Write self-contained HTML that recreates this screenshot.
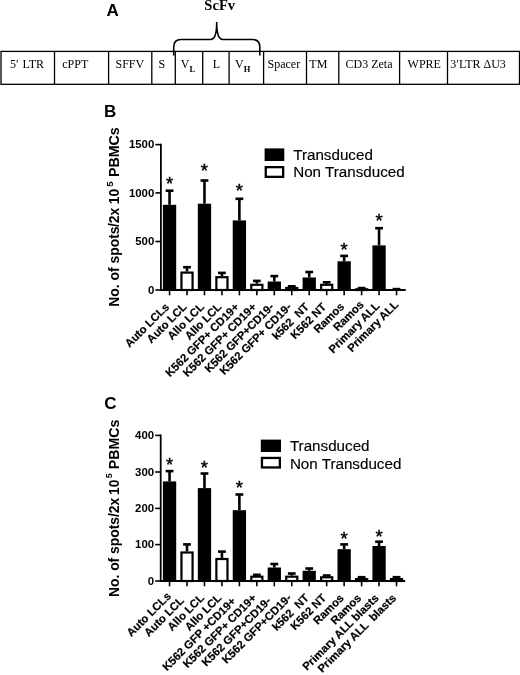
<!DOCTYPE html>
<html lang="en">
<head>
<meta charset="utf-8">
<title>Figure</title>
<style>
html,body{margin:0;padding:0;background:#fff;}
body{width:520px;height:675px;overflow:hidden;}
svg{display:block;will-change:transform;}
text{fill:#000;}
.hb{stroke:#000;stroke-width:0.2px;}
</style>
</head>
<body>
<svg width="520" height="675" viewBox="0 0 520 675">
<rect x="0" y="0" width="520" height="675" fill="#fff"/>
<text x="106.5" y="16" font-family='"Liberation Sans", Arial, Helvetica, sans-serif' font-weight="bold" font-size="17">A</text>
<text x="204.3" y="9.6" font-family='"Liberation Serif", "Times New Roman", serif' font-weight="bold" font-size="14.6">ScFv</text>
<rect x="1.0" y="51.4" width="518.5" height="32.9" fill="#fff" stroke="#000" stroke-width="1.3"/>
<line x1="54.5" y1="51.4" x2="54.5" y2="84.3" stroke="#000" stroke-width="1.3"/>
<line x1="108.6" y1="51.4" x2="108.6" y2="84.3" stroke="#000" stroke-width="1.3"/>
<line x1="151.8" y1="51.4" x2="151.8" y2="84.3" stroke="#000" stroke-width="1.3"/>
<line x1="175.3" y1="51.4" x2="175.3" y2="84.3" stroke="#000" stroke-width="1.3"/>
<line x1="202.7" y1="51.4" x2="202.7" y2="84.3" stroke="#000" stroke-width="1.3"/>
<line x1="229.1" y1="51.4" x2="229.1" y2="84.3" stroke="#000" stroke-width="1.3"/>
<line x1="263.6" y1="51.4" x2="263.6" y2="84.3" stroke="#000" stroke-width="1.3"/>
<line x1="306.5" y1="51.4" x2="306.5" y2="84.3" stroke="#000" stroke-width="1.3"/>
<line x1="338.8" y1="51.4" x2="338.8" y2="84.3" stroke="#000" stroke-width="1.3"/>
<line x1="399.6" y1="51.4" x2="399.6" y2="84.3" stroke="#000" stroke-width="1.3"/>
<line x1="447.5" y1="51.4" x2="447.5" y2="84.3" stroke="#000" stroke-width="1.3"/>
<path d="M173.7,55.6 L173.7,47 C173.7,42 176,39.5 181,39.5 L210.7,39.5 C214.6,39.5 216.7,34 216.7,22.6 C216.7,34 218.8,39.5 222.7,39.5 L252.5,39.5 C257.5,39.5 259.8,42 259.8,47 L259.8,55.6" fill="none" stroke="#000" stroke-width="1.6" stroke-linejoin="round"/>
<text x="10" y="68.3" font-family='"Liberation Serif", "Times New Roman", serif' font-size="12">5′<tspan dx='0.8'> LTR</tspan></text>
<text x="62.3" y="68.3" font-family='"Liberation Serif", "Times New Roman", serif' font-size="12">cPPT</text>
<text x="115.5" y="68.3" font-family='"Liberation Serif", "Times New Roman", serif' font-size="12">SFFV</text>
<text x="158.5" y="68.3" font-family='"Liberation Serif", "Times New Roman", serif' font-size="12">S</text>
<text x="212.8" y="68.3" font-family='"Liberation Serif", "Times New Roman", serif' font-size="12">L</text>
<text x="267.5" y="68.3" font-family='"Liberation Serif", "Times New Roman", serif' font-size="12">Spacer</text>
<text x="309.3" y="68.3" font-family='"Liberation Serif", "Times New Roman", serif' font-size="12">TM</text>
<text x="345.5" y="68.3" font-family='"Liberation Serif", "Times New Roman", serif' font-size="12">CD3 Zeta</text>
<text x="407.6" y="68.3" font-family='"Liberation Serif", "Times New Roman", serif' font-size="12">WPRE</text>
<text x="450.3" y="68.3" font-family='"Liberation Serif", "Times New Roman", serif' font-size="12">3′LTR ΔU3</text>
<text x="180.8" y="68.3" font-family='"Liberation Serif", "Times New Roman", serif' font-size="12">V<tspan font-size="8.5" font-weight="bold" dy="3.7">L</tspan></text>
<text x="235" y="68.3" font-family='"Liberation Serif", "Times New Roman", serif' font-size="12">V<tspan font-size="8.5" font-weight="bold" dy="3.7">H</tspan></text>
<text x="104.0" y="116.5" font-family='"Liberation Sans", Arial, Helvetica, sans-serif' font-weight="bold" font-size="17">B</text>
<text transform="translate(119.0,306.7) rotate(-90)" font-family='"Liberation Sans", Arial, Helvetica, sans-serif' font-weight="bold" font-size="13.9">No. of spots<tspan dx="-0.6">/2x</tspan><tspan dx="-0.4"> 10</tspan><tspan font-size="9.8" dy="-6.4" dx="2.0">5</tspan><tspan dy="6.4" dx="0.3" font-size="14.25"> PBMCs</tspan></text>
<line x1="169.55" y1="190.2" x2="169.55" y2="204.8" stroke="#000" stroke-width="2.6"/>
<line x1="165.65" y1="190.7" x2="173.45" y2="190.7" stroke="#000" stroke-width="2.6"/>
<rect x="162.90" y="204.8" width="13.3" height="85.20" fill="#000"/>
<line x1="169.55" y1="290.0" x2="169.55" y2="295.3" stroke="#000" stroke-width="1.6"/>
<text transform="translate(169.85,307.70) rotate(-45)" class="hb" text-anchor="end" font-family='"Liberation Sans", Arial, Helvetica, sans-serif' font-weight="bold" font-size="11.3" xml:space="preserve" style="white-space:pre">Auto LCLs</text>
<line x1="187.01" y1="266.7" x2="187.01" y2="271.5" stroke="#000" stroke-width="2.6"/>
<line x1="183.11" y1="267.2" x2="190.91" y2="267.2" stroke="#000" stroke-width="2.6"/>
<rect x="181.46" y="272.6" width="11.100000000000001" height="17.40" fill="#fff" stroke="#000" stroke-width="2.2"/>
<line x1="187.01" y1="290.0" x2="187.01" y2="295.3" stroke="#000" stroke-width="1.6"/>
<text transform="translate(187.31,307.70) rotate(-45)" class="hb" text-anchor="end" font-family='"Liberation Sans", Arial, Helvetica, sans-serif' font-weight="bold" font-size="11.3" xml:space="preserve" style="white-space:pre">Auto LCL</text>
<line x1="204.47" y1="180.0" x2="204.47" y2="203.7" stroke="#000" stroke-width="2.6"/>
<line x1="200.57" y1="180.5" x2="208.37" y2="180.5" stroke="#000" stroke-width="2.6"/>
<rect x="197.82" y="203.7" width="13.3" height="86.30" fill="#000"/>
<line x1="204.47" y1="290.0" x2="204.47" y2="295.3" stroke="#000" stroke-width="1.6"/>
<text transform="translate(204.77,307.70) rotate(-45)" class="hb" text-anchor="end" font-family='"Liberation Sans", Arial, Helvetica, sans-serif' font-weight="bold" font-size="11.3" xml:space="preserve" style="white-space:pre">Allo LCL</text>
<line x1="221.93" y1="272.4" x2="221.93" y2="276.1" stroke="#000" stroke-width="2.6"/>
<line x1="218.03" y1="272.9" x2="225.83" y2="272.9" stroke="#000" stroke-width="2.6"/>
<rect x="216.38" y="277.20000000000005" width="11.100000000000001" height="12.80" fill="#fff" stroke="#000" stroke-width="2.2"/>
<line x1="221.93" y1="290.0" x2="221.93" y2="295.3" stroke="#000" stroke-width="1.6"/>
<text transform="translate(222.23,307.70) rotate(-45)" class="hb" text-anchor="end" font-family='"Liberation Sans", Arial, Helvetica, sans-serif' font-weight="bold" font-size="11.3" xml:space="preserve" style="white-space:pre">Allo LCL</text>
<line x1="239.39" y1="198.3" x2="239.39" y2="220.4" stroke="#000" stroke-width="2.6"/>
<line x1="235.49" y1="198.8" x2="243.29" y2="198.8" stroke="#000" stroke-width="2.6"/>
<rect x="232.74" y="220.4" width="13.3" height="69.60" fill="#000"/>
<line x1="239.39" y1="290.0" x2="239.39" y2="295.3" stroke="#000" stroke-width="1.6"/>
<text transform="translate(239.69,307.70) rotate(-45)" class="hb" text-anchor="end" font-family='"Liberation Sans", Arial, Helvetica, sans-serif' font-weight="bold" font-size="11.3" xml:space="preserve" style="white-space:pre">K562 GFP+ CD19+</text>
<line x1="256.85" y1="280.4" x2="256.85" y2="283.7" stroke="#000" stroke-width="2.6"/>
<line x1="252.95" y1="280.9" x2="260.75" y2="280.9" stroke="#000" stroke-width="2.6"/>
<rect x="251.30" y="284.8" width="11.100000000000001" height="5.20" fill="#fff" stroke="#000" stroke-width="2.2"/>
<line x1="256.85" y1="290.0" x2="256.85" y2="295.3" stroke="#000" stroke-width="1.6"/>
<text transform="translate(257.15,307.70) rotate(-45)" class="hb" text-anchor="end" font-family='"Liberation Sans", Arial, Helvetica, sans-serif' font-weight="bold" font-size="11.3" xml:space="preserve" style="white-space:pre">K562 GFP+ CD19+</text>
<line x1="274.31" y1="275.6" x2="274.31" y2="281.5" stroke="#000" stroke-width="2.6"/>
<line x1="270.41" y1="276.1" x2="278.21" y2="276.1" stroke="#000" stroke-width="2.6"/>
<rect x="267.66" y="281.5" width="13.3" height="8.50" fill="#000"/>
<line x1="274.31" y1="290.0" x2="274.31" y2="295.3" stroke="#000" stroke-width="1.6"/>
<text transform="translate(274.61,307.70) rotate(-45)" class="hb" text-anchor="end" font-family='"Liberation Sans", Arial, Helvetica, sans-serif' font-weight="bold" font-size="11.3" xml:space="preserve" style="white-space:pre">K562 GFP+CD19-</text>
<line x1="291.77" y1="285.8" x2="291.77" y2="286.9" stroke="#000" stroke-width="2.6"/>
<line x1="287.87" y1="286.3" x2="295.67" y2="286.3" stroke="#000" stroke-width="2.6"/>
<rect x="286.22" y="288.0" width="11.100000000000001" height="2.00" fill="#fff" stroke="#000" stroke-width="2.2"/>
<line x1="291.77" y1="290.0" x2="291.77" y2="295.3" stroke="#000" stroke-width="1.6"/>
<text transform="translate(292.07,307.70) rotate(-45)" class="hb" text-anchor="end" font-family='"Liberation Sans", Arial, Helvetica, sans-serif' font-weight="bold" font-size="11.3" xml:space="preserve" style="white-space:pre">K562 GFP+ CD19-</text>
<line x1="309.23" y1="271.5" x2="309.23" y2="277.5" stroke="#000" stroke-width="2.6"/>
<line x1="305.33" y1="272.0" x2="313.13" y2="272.0" stroke="#000" stroke-width="2.6"/>
<rect x="302.58" y="277.5" width="13.3" height="12.50" fill="#000"/>
<line x1="309.23" y1="290.0" x2="309.23" y2="295.3" stroke="#000" stroke-width="1.6"/>
<text transform="translate(309.53,307.70) rotate(-45)" class="hb" text-anchor="end" font-family='"Liberation Sans", Arial, Helvetica, sans-serif' font-weight="bold" font-size="11.3" xml:space="preserve" style="white-space:pre">k562  NT</text>
<line x1="326.69" y1="281.8" x2="326.69" y2="283.7" stroke="#000" stroke-width="2.6"/>
<line x1="322.79" y1="282.3" x2="330.59" y2="282.3" stroke="#000" stroke-width="2.6"/>
<rect x="321.14" y="284.8" width="11.100000000000001" height="5.20" fill="#fff" stroke="#000" stroke-width="2.2"/>
<line x1="326.69" y1="290.0" x2="326.69" y2="295.3" stroke="#000" stroke-width="1.6"/>
<text transform="translate(326.99,307.70) rotate(-45)" class="hb" text-anchor="end" font-family='"Liberation Sans", Arial, Helvetica, sans-serif' font-weight="bold" font-size="11.3" xml:space="preserve" style="white-space:pre">K562 NT</text>
<line x1="344.15" y1="255.4" x2="344.15" y2="261.3" stroke="#000" stroke-width="2.6"/>
<line x1="340.25" y1="255.9" x2="348.05" y2="255.9" stroke="#000" stroke-width="2.6"/>
<rect x="337.50" y="261.3" width="13.3" height="28.70" fill="#000"/>
<line x1="344.15" y1="290.0" x2="344.15" y2="295.3" stroke="#000" stroke-width="1.6"/>
<text transform="translate(344.94,307.21) rotate(-45)" class="hb" text-anchor="end" font-family='"Liberation Sans", Arial, Helvetica, sans-serif' font-weight="bold" font-size="11.3" xml:space="preserve" style="white-space:pre">Ramos</text>
<line x1="361.61" y1="287.6" x2="361.61" y2="288.2" stroke="#000" stroke-width="2.6"/>
<line x1="357.71" y1="288.1" x2="365.51" y2="288.1" stroke="#000" stroke-width="2.6"/>
<rect x="356.06" y="289.3" width="11.100000000000001" height="0.70" fill="#fff" stroke="#000" stroke-width="2.2"/>
<line x1="361.61" y1="290.0" x2="361.61" y2="295.3" stroke="#000" stroke-width="1.6"/>
<text transform="translate(364.38,305.23) rotate(-45)" class="hb" text-anchor="end" font-family='"Liberation Sans", Arial, Helvetica, sans-serif' font-weight="bold" font-size="11.3" xml:space="preserve" style="white-space:pre">Ramos</text>
<line x1="379.07" y1="227.7" x2="379.07" y2="245.4" stroke="#000" stroke-width="2.6"/>
<line x1="375.17" y1="228.2" x2="382.97" y2="228.2" stroke="#000" stroke-width="2.6"/>
<rect x="372.42" y="245.4" width="13.3" height="44.60" fill="#000"/>
<line x1="379.07" y1="290.0" x2="379.07" y2="295.3" stroke="#000" stroke-width="1.6"/>
<text transform="translate(380.36,306.71) rotate(-45)" class="hb" text-anchor="end" font-family='"Liberation Sans", Arial, Helvetica, sans-serif' font-weight="bold" font-size="11.3" xml:space="preserve" style="white-space:pre">Primary ALL</text>
<line x1="396.53" y1="288.6" x2="396.53" y2="289.0" stroke="#000" stroke-width="2.6"/>
<line x1="392.63" y1="289.1" x2="400.43" y2="289.1" stroke="#000" stroke-width="2.6"/>
<rect x="390.98" y="290.1" width="11.100000000000001" height="-0.10" fill="#fff" stroke="#000" stroke-width="2.2"/>
<line x1="396.53" y1="290.0" x2="396.53" y2="295.3" stroke="#000" stroke-width="1.6"/>
<text transform="translate(399.09,305.44) rotate(-45)" class="hb" text-anchor="end" font-family='"Liberation Sans", Arial, Helvetica, sans-serif' font-weight="bold" font-size="11.3" xml:space="preserve" style="white-space:pre">Primary ALL</text>
<text x="169.55" y="189.5" text-anchor="middle" font-family='"Liberation Sans", Arial, Helvetica, sans-serif' font-size="18.5" stroke="#000" stroke-width="0.45">*</text>
<text x="204.47" y="176.9" text-anchor="middle" font-family='"Liberation Sans", Arial, Helvetica, sans-serif' font-size="18.5" stroke="#000" stroke-width="0.45">*</text>
<text x="239.39" y="196.9" text-anchor="middle" font-family='"Liberation Sans", Arial, Helvetica, sans-serif' font-size="18.5" stroke="#000" stroke-width="0.45">*</text>
<text x="344.15" y="256.1" text-anchor="middle" font-family='"Liberation Sans", Arial, Helvetica, sans-serif' font-size="18.5" stroke="#000" stroke-width="0.45">*</text>
<text x="379.07" y="227.3" text-anchor="middle" font-family='"Liberation Sans", Arial, Helvetica, sans-serif' font-size="18.5" stroke="#000" stroke-width="0.45">*</text>
<line x1="160.9" y1="143.7" x2="160.9" y2="290.9" stroke="#000" stroke-width="1.8"/>
<line x1="160.0" y1="290.0" x2="405.7" y2="290.0" stroke="#000" stroke-width="1.8"/>
<line x1="155.4" y1="144.6" x2="160.9" y2="144.6" stroke="#000" stroke-width="1.6"/>
<text x="154.3" y="148.2" text-anchor="end" font-family='"Liberation Sans", Arial, Helvetica, sans-serif' font-weight="bold" font-size="11.4">1500</text>
<line x1="155.4" y1="192.9" x2="160.9" y2="192.9" stroke="#000" stroke-width="1.6"/>
<text x="154.3" y="196.5" text-anchor="end" font-family='"Liberation Sans", Arial, Helvetica, sans-serif' font-weight="bold" font-size="11.4">1000</text>
<line x1="155.4" y1="241.5" x2="160.9" y2="241.5" stroke="#000" stroke-width="1.6"/>
<text x="154.3" y="245.1" text-anchor="end" font-family='"Liberation Sans", Arial, Helvetica, sans-serif' font-weight="bold" font-size="11.4">500</text>
<line x1="155.4" y1="290.0" x2="160.9" y2="290.0" stroke="#000" stroke-width="1.6"/>
<text x="154.3" y="293.6" text-anchor="end" font-family='"Liberation Sans", Arial, Helvetica, sans-serif' font-weight="bold" font-size="11.4">0</text>
<rect x="264.6" y="148.4" width="19.69999999999999" height="12.599999999999994" fill="#000"/>
<rect x="265.75" y="167.15" width="17.399999999999988" height="9.7" fill="#fff" stroke="#000" stroke-width="2.3"/>
<text x="293.2" y="159.8" font-family='"Liberation Sans", Arial, Helvetica, sans-serif' font-size="15.2" stroke="#000" stroke-width="0.15">Transduced</text>
<text x="293.2" y="177.2" font-family='"Liberation Sans", Arial, Helvetica, sans-serif' font-size="15.2" stroke="#000" stroke-width="0.15">Non Transduced</text>
<text x="104.2" y="408.5" font-family='"Liberation Sans", Arial, Helvetica, sans-serif' font-weight="bold" font-size="17">C</text>
<text transform="translate(118.5,597.0) rotate(-90)" font-family='"Liberation Sans", Arial, Helvetica, sans-serif' font-weight="bold" font-size="13.85">No. of spots<tspan dx="0">/2x</tspan><tspan dx="-1.0"> 10</tspan><tspan font-size="8.8" dy="-6.7" dx="1.2">5</tspan><tspan dy="6.7" dx="0.3" font-size="14.20"> PBMCs</tspan></text>
<line x1="169.55" y1="470.6" x2="169.55" y2="481.4" stroke="#000" stroke-width="2.6"/>
<line x1="165.65" y1="471.1" x2="173.45" y2="471.1" stroke="#000" stroke-width="2.6"/>
<rect x="162.90" y="481.4" width="13.3" height="99.60" fill="#000"/>
<line x1="169.55" y1="581.0" x2="169.55" y2="586.3" stroke="#000" stroke-width="1.6"/>
<text transform="translate(171.69,596.86) rotate(-45)" class="hb" text-anchor="end" font-family='"Liberation Sans", Arial, Helvetica, sans-serif' font-weight="bold" font-size="11.3" xml:space="preserve" style="white-space:pre">Auto LCLs</text>
<line x1="187.01" y1="543.9" x2="187.01" y2="551.4" stroke="#000" stroke-width="2.6"/>
<line x1="183.11" y1="544.4" x2="190.91" y2="544.4" stroke="#000" stroke-width="2.6"/>
<rect x="181.46" y="552.5" width="11.100000000000001" height="28.50" fill="#fff" stroke="#000" stroke-width="2.2"/>
<line x1="187.01" y1="581.0" x2="187.01" y2="586.3" stroke="#000" stroke-width="1.6"/>
<text transform="translate(184.69,601.32) rotate(-45)" class="hb" text-anchor="end" font-family='"Liberation Sans", Arial, Helvetica, sans-serif' font-weight="bold" font-size="11.3" xml:space="preserve" style="white-space:pre">Auto LCL</text>
<line x1="204.47" y1="473.0" x2="204.47" y2="488.1" stroke="#000" stroke-width="2.6"/>
<line x1="200.57" y1="473.5" x2="208.37" y2="473.5" stroke="#000" stroke-width="2.6"/>
<rect x="197.82" y="488.1" width="13.3" height="92.90" fill="#000"/>
<line x1="204.47" y1="581.0" x2="204.47" y2="586.3" stroke="#000" stroke-width="1.6"/>
<text transform="translate(204.77,598.70) rotate(-45)" class="hb" text-anchor="end" font-family='"Liberation Sans", Arial, Helvetica, sans-serif' font-weight="bold" font-size="11.3" xml:space="preserve" style="white-space:pre">Allo LCL</text>
<line x1="221.93" y1="551.1" x2="221.93" y2="557.9" stroke="#000" stroke-width="2.6"/>
<line x1="218.03" y1="551.6" x2="225.83" y2="551.6" stroke="#000" stroke-width="2.6"/>
<rect x="216.38" y="559.0" width="11.100000000000001" height="22.00" fill="#fff" stroke="#000" stroke-width="2.2"/>
<line x1="221.93" y1="581.0" x2="221.93" y2="586.3" stroke="#000" stroke-width="1.6"/>
<text transform="translate(222.23,598.70) rotate(-45)" class="hb" text-anchor="end" font-family='"Liberation Sans", Arial, Helvetica, sans-serif' font-weight="bold" font-size="11.3" xml:space="preserve" style="white-space:pre">Allo LCL</text>
<line x1="239.39" y1="494.0" x2="239.39" y2="510.2" stroke="#000" stroke-width="2.6"/>
<line x1="235.49" y1="494.5" x2="243.29" y2="494.5" stroke="#000" stroke-width="2.6"/>
<rect x="232.74" y="510.2" width="13.3" height="70.80" fill="#000"/>
<line x1="239.39" y1="581.0" x2="239.39" y2="586.3" stroke="#000" stroke-width="1.6"/>
<text transform="translate(236.51,601.88) rotate(-45)" class="hb" text-anchor="end" font-family='"Liberation Sans", Arial, Helvetica, sans-serif' font-weight="bold" font-size="11.3" xml:space="preserve" style="white-space:pre">K562 GFP +CD19+</text>
<line x1="256.85" y1="574.3" x2="256.85" y2="575.6" stroke="#000" stroke-width="2.6"/>
<line x1="252.95" y1="574.8" x2="260.75" y2="574.8" stroke="#000" stroke-width="2.6"/>
<rect x="251.30" y="576.7" width="11.100000000000001" height="4.30" fill="#fff" stroke="#000" stroke-width="2.2"/>
<line x1="256.85" y1="581.0" x2="256.85" y2="586.3" stroke="#000" stroke-width="1.6"/>
<text transform="translate(257.15,598.70) rotate(-45)" class="hb" text-anchor="end" font-family='"Liberation Sans", Arial, Helvetica, sans-serif' font-weight="bold" font-size="11.3" xml:space="preserve" style="white-space:pre">K562 GFP+ CD19+</text>
<line x1="274.31" y1="563.5" x2="274.31" y2="567.5" stroke="#000" stroke-width="2.6"/>
<line x1="270.41" y1="564.0" x2="278.21" y2="564.0" stroke="#000" stroke-width="2.6"/>
<rect x="267.66" y="567.5" width="13.3" height="13.50" fill="#000"/>
<line x1="274.31" y1="581.0" x2="274.31" y2="586.3" stroke="#000" stroke-width="1.6"/>
<text transform="translate(271.71,601.60) rotate(-45)" class="hb" text-anchor="end" font-family='"Liberation Sans", Arial, Helvetica, sans-serif' font-weight="bold" font-size="11.3" xml:space="preserve" style="white-space:pre">K562 GFP+CD19-</text>
<line x1="291.77" y1="573.0" x2="291.77" y2="575.6" stroke="#000" stroke-width="2.6"/>
<line x1="287.87" y1="573.5" x2="295.67" y2="573.5" stroke="#000" stroke-width="2.6"/>
<rect x="286.22" y="576.7" width="11.100000000000001" height="4.30" fill="#fff" stroke="#000" stroke-width="2.2"/>
<line x1="291.77" y1="581.0" x2="291.77" y2="586.3" stroke="#000" stroke-width="1.6"/>
<text transform="translate(292.07,598.70) rotate(-45)" class="hb" text-anchor="end" font-family='"Liberation Sans", Arial, Helvetica, sans-serif' font-weight="bold" font-size="11.3" xml:space="preserve" style="white-space:pre">K562 GFP+CD19-</text>
<line x1="309.23" y1="568.0" x2="309.23" y2="570.8" stroke="#000" stroke-width="2.6"/>
<line x1="305.33" y1="568.5" x2="313.13" y2="568.5" stroke="#000" stroke-width="2.6"/>
<rect x="302.58" y="570.8" width="13.3" height="10.20" fill="#000"/>
<line x1="309.23" y1="581.0" x2="309.23" y2="586.3" stroke="#000" stroke-width="1.6"/>
<text transform="translate(309.53,598.70) rotate(-45)" class="hb" text-anchor="end" font-family='"Liberation Sans", Arial, Helvetica, sans-serif' font-weight="bold" font-size="11.3" xml:space="preserve" style="white-space:pre">k562  NT</text>
<line x1="326.69" y1="575.0" x2="326.69" y2="576.2" stroke="#000" stroke-width="2.6"/>
<line x1="322.79" y1="575.5" x2="330.59" y2="575.5" stroke="#000" stroke-width="2.6"/>
<rect x="321.14" y="577.3000000000001" width="11.100000000000001" height="3.70" fill="#fff" stroke="#000" stroke-width="2.2"/>
<line x1="326.69" y1="581.0" x2="326.69" y2="586.3" stroke="#000" stroke-width="1.6"/>
<text transform="translate(326.99,598.70) rotate(-45)" class="hb" text-anchor="end" font-family='"Liberation Sans", Arial, Helvetica, sans-serif' font-weight="bold" font-size="11.3" xml:space="preserve" style="white-space:pre">K562 NT</text>
<line x1="344.15" y1="543.9" x2="344.15" y2="549.2" stroke="#000" stroke-width="2.6"/>
<line x1="340.25" y1="544.4" x2="348.05" y2="544.4" stroke="#000" stroke-width="2.6"/>
<rect x="337.50" y="549.2" width="13.3" height="31.80" fill="#000"/>
<line x1="344.15" y1="581.0" x2="344.15" y2="586.3" stroke="#000" stroke-width="1.6"/>
<text transform="translate(344.45,598.70) rotate(-45)" class="hb" text-anchor="end" font-family='"Liberation Sans", Arial, Helvetica, sans-serif' font-weight="bold" font-size="11.3" xml:space="preserve" style="white-space:pre">Ramos</text>
<line x1="361.61" y1="576.7" x2="361.61" y2="578.0" stroke="#000" stroke-width="2.6"/>
<line x1="357.71" y1="577.2" x2="365.51" y2="577.2" stroke="#000" stroke-width="2.6"/>
<rect x="356.06" y="579.1" width="11.100000000000001" height="1.90" fill="#fff" stroke="#000" stroke-width="2.2"/>
<line x1="361.61" y1="581.0" x2="361.61" y2="586.3" stroke="#000" stroke-width="1.6"/>
<text transform="translate(361.91,598.70) rotate(-45)" class="hb" text-anchor="end" font-family='"Liberation Sans", Arial, Helvetica, sans-serif' font-weight="bold" font-size="11.3" xml:space="preserve" style="white-space:pre">Ramos</text>
<line x1="379.07" y1="541.2" x2="379.07" y2="546.0" stroke="#000" stroke-width="2.6"/>
<line x1="375.17" y1="541.7" x2="382.97" y2="541.7" stroke="#000" stroke-width="2.6"/>
<rect x="372.42" y="546.0" width="13.3" height="35.00" fill="#000"/>
<line x1="379.07" y1="581.0" x2="379.07" y2="586.3" stroke="#000" stroke-width="1.6"/>
<text transform="translate(379.37,598.70) rotate(-45)" class="hb" text-anchor="end" font-family='"Liberation Sans", Arial, Helvetica, sans-serif' font-weight="bold" font-size="11.3" xml:space="preserve" style="white-space:pre">Primary ALL blasts</text>
<line x1="396.53" y1="576.7" x2="396.53" y2="578.0" stroke="#000" stroke-width="2.6"/>
<line x1="392.63" y1="577.2" x2="400.43" y2="577.2" stroke="#000" stroke-width="2.6"/>
<rect x="390.98" y="579.1" width="11.100000000000001" height="1.90" fill="#fff" stroke="#000" stroke-width="2.2"/>
<line x1="396.53" y1="581.0" x2="396.53" y2="586.3" stroke="#000" stroke-width="1.6"/>
<text transform="translate(396.83,598.70) rotate(-45)" class="hb" text-anchor="end" font-family='"Liberation Sans", Arial, Helvetica, sans-serif' font-weight="bold" font-size="11.3" xml:space="preserve" style="white-space:pre">Primary ALL  blasts</text>
<text x="169.55" y="471.1" text-anchor="middle" font-family='"Liberation Sans", Arial, Helvetica, sans-serif' font-size="18.5" stroke="#000" stroke-width="0.45">*</text>
<text x="204.47" y="474.0" text-anchor="middle" font-family='"Liberation Sans", Arial, Helvetica, sans-serif' font-size="18.5" stroke="#000" stroke-width="0.45">*</text>
<text x="239.39" y="494.2" text-anchor="middle" font-family='"Liberation Sans", Arial, Helvetica, sans-serif' font-size="18.5" stroke="#000" stroke-width="0.45">*</text>
<text x="344.15" y="544.6" text-anchor="middle" font-family='"Liberation Sans", Arial, Helvetica, sans-serif' font-size="18.5" stroke="#000" stroke-width="0.45">*</text>
<text x="379.07" y="543.2" text-anchor="middle" font-family='"Liberation Sans", Arial, Helvetica, sans-serif' font-size="18.5" stroke="#000" stroke-width="0.45">*</text>
<line x1="160.7" y1="434.5" x2="160.7" y2="581.9" stroke="#000" stroke-width="1.8"/>
<line x1="159.79999999999998" y1="581.0" x2="405.2" y2="581.0" stroke="#000" stroke-width="1.8"/>
<line x1="155.2" y1="435.4" x2="160.7" y2="435.4" stroke="#000" stroke-width="1.6"/>
<text x="154.1" y="439.0" text-anchor="end" font-family='"Liberation Sans", Arial, Helvetica, sans-serif' font-weight="bold" font-size="11.4">400</text>
<line x1="155.2" y1="472.0" x2="160.7" y2="472.0" stroke="#000" stroke-width="1.6"/>
<text x="154.1" y="475.6" text-anchor="end" font-family='"Liberation Sans", Arial, Helvetica, sans-serif' font-weight="bold" font-size="11.4">300</text>
<line x1="155.2" y1="508.4" x2="160.7" y2="508.4" stroke="#000" stroke-width="1.6"/>
<text x="154.1" y="512.0" text-anchor="end" font-family='"Liberation Sans", Arial, Helvetica, sans-serif' font-weight="bold" font-size="11.4">200</text>
<line x1="155.2" y1="544.6" x2="160.7" y2="544.6" stroke="#000" stroke-width="1.6"/>
<text x="154.1" y="548.2" text-anchor="end" font-family='"Liberation Sans", Arial, Helvetica, sans-serif' font-weight="bold" font-size="11.4">100</text>
<line x1="155.2" y1="581.0" x2="160.7" y2="581.0" stroke="#000" stroke-width="1.6"/>
<text x="154.1" y="584.6" text-anchor="end" font-family='"Liberation Sans", Arial, Helvetica, sans-serif' font-weight="bold" font-size="11.4">0</text>
<rect x="260.8" y="439.6" width="20.19999999999999" height="12.399999999999977" fill="#000"/>
<rect x="261.95" y="457.95" width="17.899999999999988" height="9.50000000000001" fill="#fff" stroke="#000" stroke-width="2.3"/>
<text x="289.9" y="450.7" font-family='"Liberation Sans", Arial, Helvetica, sans-serif' font-size="15.2" stroke="#000" stroke-width="0.15">Transduced</text>
<text x="289.9" y="468.5" font-family='"Liberation Sans", Arial, Helvetica, sans-serif' font-size="15.2" stroke="#000" stroke-width="0.15">Non Transduced</text>
</svg>
</body>
</html>
